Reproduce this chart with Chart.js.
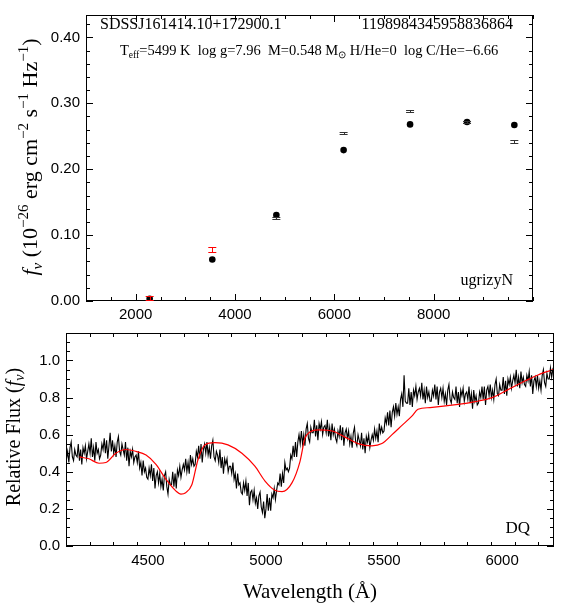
<!DOCTYPE html>
<html>
<head>
<meta charset="utf-8">
<script src="https://cdn.jsdelivr.net/npm/chart.js@4"></script>
<style>
html, body { margin: 0; padding: 0; background: #fff; }
#page { position: relative; width: 578px; height: 604px; overflow: hidden; }
#topChart { position: absolute; left: 0; top: 0; }
#botChart { position: absolute; left: 0; top: 318px; }
</style>
</head>
<body>
<div id="page">
  <canvas id="topChart" width="578" height="326"></canvas>
  <canvas id="botChart" width="578" height="286"></canvas>
</div>
<script>
// ---- top panel: photometry ----
const photWave  = [2282, 3543, 4833, 6187, 7525, 8672, 9624];
const modelFlux = [0.0035, 0.063, 0.1306, 0.229, 0.268, 0.2717, 0.267];   // filled dots
const obsFlux   = [0.004, 0.0776, 0.1257, 0.2553, 0.288, 0.2717, 0.2419]; // error bars
const obsErr    = [0.003, 0.004, 0.0015, 0.0015, 0.0015, 0.0015, 0.002];
const obsColor  = ['#ff0000', '#ff0000', '#333', '#333', '#333', '#333', '#333'];
const topXTicks = [2000, 4000, 6000, 8000];
const topYTicks = [0, 0.1, 0.2, 0.3, 0.4];

// ---- bottom panel: spectrum ----
const specStart = 4150;   // Angstrom, first sample
const specStep  = 5;      // Angstrom between samples
const specFlux = [
  0.54, 0.47, 0.51, 0.45, 0.53, 0.56, 0.48, 0.46, 0.52, 0.49,
  0.48, 0.55, 0.46, 0.52, 0.44, 0.53, 0.50, 0.54, 0.47, 0.51,
  0.55, 0.50, 0.58, 0.48, 0.53, 0.46, 0.56, 0.50, 0.52, 0.47,
  0.49, 0.55, 0.52, 0.58, 0.50, 0.57, 0.47, 0.54, 0.61, 0.51,
  0.57, 0.50, 0.54, 0.48, 0.56, 0.59, 0.51, 0.49, 0.55, 0.52,
  0.49, 0.56, 0.46, 0.53, 0.43, 0.51, 0.48, 0.52, 0.45, 0.48,
  0.49, 0.45, 0.51, 0.42, 0.45, 0.38, 0.46, 0.40, 0.42, 0.37,
  0.36, 0.42, 0.38, 0.44, 0.35, 0.42, 0.31, 0.38, 0.40, 0.34,
  0.39, 0.32, 0.36, 0.30, 0.38, 0.40, 0.32, 0.28, 0.36, 0.33,
  0.33, 0.40, 0.32, 0.39, 0.31, 0.41, 0.38, 0.43, 0.37, 0.41,
  0.44, 0.41, 0.47, 0.40, 0.45, 0.39, 0.49, 0.44, 0.47, 0.43,
  0.44, 0.51, 0.48, 0.54, 0.47, 0.55, 0.45, 0.52, 0.55, 0.50,
  0.56, 0.49, 0.53, 0.47, 0.54, 0.57, 0.48, 0.46, 0.51, 0.49,
  0.45, 0.52, 0.42, 0.48, 0.39, 0.47, 0.44, 0.47, 0.40, 0.43,
  0.43, 0.39, 0.45, 0.36, 0.39, 0.31, 0.39, 0.33, 0.34, 0.29,
  0.28, 0.34, 0.30, 0.35, 0.27, 0.34, 0.22, 0.29, 0.30, 0.25,
  0.30, 0.23, 0.26, 0.20, 0.27, 0.29, 0.21, 0.18, 0.24, 0.15,
  0.20, 0.28, 0.19, 0.26, 0.19, 0.28, 0.26, 0.31, 0.25, 0.30,
  0.34, 0.33, 0.39, 0.32, 0.39, 0.34, 0.45, 0.41, 0.42, 0.40,
  0.42, 0.49, 0.47, 0.54, 0.48, 0.56, 0.48, 0.56, 0.60, 0.55,
  0.62, 0.55, 0.60, 0.54, 0.63, 0.66, 0.58, 0.56, 0.64, 0.61,
  0.61, 0.68, 0.59, 0.65, 0.57, 0.66, 0.63, 0.67, 0.60, 0.64,
  0.65, 0.61, 0.68, 0.59, 0.64, 0.57, 0.66, 0.60, 0.63, 0.58,
  0.56, 0.62, 0.59, 0.65, 0.57, 0.64, 0.54, 0.61, 0.63, 0.58,
  0.62, 0.55, 0.59, 0.53, 0.61, 0.64, 0.56, 0.54, 0.60, 0.57,
  0.54, 0.61, 0.52, 0.58, 0.50, 0.59, 0.56, 0.60, 0.53, 0.57,
  0.60, 0.57, 0.63, 0.58, 0.62, 0.56, 0.66, 0.61, 0.64, 0.61,
  0.62, 0.69, 0.66, 0.72, 0.65, 0.73, 0.64, 0.72, 0.75, 0.70,
  0.77, 0.71, 0.75, 0.70, 0.79, 0.82, 0.75, 0.92, 0.78, 0.77,
  0.77, 0.85, 0.76, 0.83, 0.75, 0.84, 0.81, 0.86, 0.79, 0.83,
  0.85, 0.81, 0.88, 0.79, 0.84, 0.77, 0.86, 0.80, 0.83, 0.78,
  0.78, 0.84, 0.81, 0.87, 0.79, 0.86, 0.76, 0.83, 0.85, 0.80,
  0.85, 0.78, 0.82, 0.76, 0.84, 0.87, 0.79, 0.77, 0.83, 0.80,
  0.79, 0.86, 0.77, 0.83, 0.75, 0.84, 0.81, 0.85, 0.78, 0.82,
  0.83, 0.79, 0.86, 0.77, 0.82, 0.74, 0.84, 0.78, 0.81, 0.76,
  0.77, 0.83, 0.80, 0.86, 0.79, 0.86, 0.76, 0.84, 0.86, 0.81,
  0.87, 0.80, 0.84, 0.79, 0.87, 0.90, 0.82, 0.81, 0.87, 0.84,
  0.84, 0.91, 0.82, 0.89, 0.81, 0.90, 0.87, 0.91, 0.85, 0.89,
  0.92, 0.88, 0.95, 0.86, 0.91, 0.85, 0.94, 0.88, 0.91, 0.87,
  0.86, 0.92, 0.89, 0.94, 0.86, 0.92, 0.82, 0.89, 0.91, 0.86,
  0.92, 0.85, 0.89, 0.84, 0.92, 0.95, 0.88, 0.86, 0.93, 0.90,
  0.90, 0.96, 0.91, 0.95, 0.93
];
const fitWave = [4210, 4250, 4293, 4322, 4364, 4407, 4449, 4492, 4534, 4576, 4619, 4640, 4660,
  4686, 4712, 4741, 4784, 4839, 4898, 4953, 4996, 5038, 5068, 5110, 5144, 5165, 5186, 5220,
  5280, 5335, 5390, 5449, 5491, 5534, 5576, 5618, 5644, 5695, 5814, 5886, 5958, 6025, 6097,
  6152, 6220];
const fitFlux = [0.48, 0.47, 0.446, 0.45, 0.50, 0.52, 0.51, 0.49, 0.44, 0.36, 0.296, 0.28, 0.287,
  0.33, 0.465, 0.545, 0.557, 0.545, 0.50, 0.43, 0.35, 0.30, 0.293, 0.34, 0.455, 0.58, 0.614, 0.626,
  0.62, 0.587, 0.552, 0.54, 0.552, 0.60, 0.65, 0.70, 0.737, 0.746, 0.763, 0.778, 0.80, 0.843, 0.889,
  0.922, 0.952];
const botXTicks = [4500, 5000, 5500, 6000];
const botYTicks = [0, 0.2, 0.4, 0.6, 0.8, 1.0];

const tickFont = { family: 'Liberation Sans', size: 15 };
const serif = 'Liberation Serif';

function fixedTicks(vals) {
  return function (axis) { axis.ticks = vals.map(v => ({ value: v })); };
}

// box + inward ticks on all four sides
const framePlugin = {
  id: 'frame',
  afterDatasetsDraw(chart, args, opts) {
    const { ctx, chartArea: a, scales: { x, y } } = chart;
    ctx.save();
    ctx.strokeStyle = '#000';
    ctx.lineWidth = 1;
    ctx.strokeRect(a.left + 0.5, a.top + 0.5, a.right - a.left - 1, a.bottom - a.top - 1);
    ctx.beginPath();
    for (let v = x.min; v <= x.max + 1e-9; v += opts.xMinor) {
      const px = Math.round(x.getPixelForValue(v)) + 0.5;
      const len = opts.xMajor.some(m => Math.abs(m - v) < 1e-6) ? opts.major : opts.minor;
      ctx.moveTo(px, a.bottom); ctx.lineTo(px, a.bottom - len);
      ctx.moveTo(px, a.top); ctx.lineTo(px, a.top + len);
    }
    for (let v = y.min; v <= y.max + 1e-9; v += opts.yMinor) {
      const py = Math.round(y.getPixelForValue(v)) + 0.5;
      const len = opts.yMajor.some(m => Math.abs(m - v) < 1e-6) ? opts.major : opts.minor;
      ctx.moveTo(a.left, py); ctx.lineTo(a.left + len, py);
      ctx.moveTo(a.right, py); ctx.lineTo(a.right - len, py);
    }
    ctx.stroke();
    ctx.restore();
  }
};

function drawParts(ctx, x, y, parts) {
  parts.forEach(p => {
    ctx.font = p.f;
    ctx.fillText(p.t, x, y + (p.dy || 0));
    x += ctx.measureText(p.t).width;
  });
}
function partsWidth(ctx, parts) {
  let w = 0;
  parts.forEach(p => { ctx.font = p.f; w += ctx.measureText(p.t).width; });
  return w;
}

// error bars for observed photometry
const errPlugin = {
  id: 'errbars',
  afterDatasetsDraw(chart) {
    const { ctx, scales: { x, y } } = chart;
    ctx.save();
    ctx.lineWidth = 1;
    photWave.forEach((w, i) => {
      const px = x.getPixelForValue(w);
      const top = Math.round(y.getPixelForValue(obsFlux[i] + obsErr[i])) + 0.5;
      const bot = Math.round(y.getPixelForValue(obsFlux[i] - obsErr[i])) + 0.5;
      ctx.strokeStyle = obsColor[i];
      ctx.beginPath();
      ctx.moveTo(px - 4, top); ctx.lineTo(px + 4, top);
      ctx.moveTo(px - 4, bot); ctx.lineTo(px + 4, bot);
      ctx.moveTo(Math.round(px) + 0.5, top); ctx.lineTo(Math.round(px) + 0.5, bot);
      ctx.stroke();
    });
    ctx.restore();
  }
};

const topText = {
  id: 'topText',
  afterDraw(chart) {
    const ctx = chart.ctx;
    ctx.save();
    ctx.fillStyle = '#000';
    ctx.textBaseline = 'alphabetic';
    ctx.font = '16px ' + serif;
    ctx.textAlign = 'left';
    ctx.fillText('SDSSJ161414.10+172900.1', 100, 29);
    ctx.textAlign = 'right';
    ctx.fillText('1198984345958836864', 513, 29);
    ctx.fillText('ugrizyN', 513, 285);
    ctx.textAlign = 'left';
    const f = '14.5px ' + serif, s = '9.5px ' + serif;
    drawParts(ctx, 120, 55, [
      { t: 'T', f: f }, { t: 'eff', f: s, dy: 3 },
      { t: '=5499 K  log g=7.96  M=0.548 M', f: f }, { t: '\u2299', f: s, dy: 3 },
      { t: ' H/He=0  log C/He=\u22126.66', f: f }
    ]);
    // y title
    const F = '22px ' + serif, FI = 'italic 22px ' + serif, S = '15px ' + serif;
    const parts = [
      { t: 'f', f: FI }, { t: '\u03bd', f: 'italic 15px ' + serif, dy: 5 },
      { t: ' (10', f: F }, { t: '\u221226', f: S, dy: -9 },
      { t: ' erg cm', f: F }, { t: '\u22122', f: S, dy: -9 },
      { t: ' s', f: F }, { t: '\u22121', f: S, dy: -9 },
      { t: ' Hz', f: F }, { t: '\u22121', f: S, dy: -9 },
      { t: ')', f: F }
    ];
    ctx.translate(37, 157);
    ctx.rotate(-Math.PI / 2);
    drawParts(ctx, -partsWidth(ctx, parts) / 2, 0, parts);
    ctx.restore();
  }
};

const botText = {
  id: 'botText',
  afterDraw(chart) {
    const ctx = chart.ctx;
    ctx.save();
    ctx.fillStyle = '#000';
    ctx.textBaseline = 'alphabetic';
    ctx.font = '17px ' + serif;
    ctx.textAlign = 'right';
    ctx.fillText('DQ', 530, 215);
    ctx.textAlign = 'center';
    ctx.font = '21px ' + serif;
    ctx.fillText('Wavelength (\u00c5)', 310, 280);
    ctx.textAlign = 'left';
    const parts = [
      { t: 'Relative Flux (', f: '20px ' + serif },
      { t: 'f', f: 'italic 20px ' + serif }, { t: '\u03bd', f: 'italic 14px ' + serif, dy: 4 },
      { t: ')', f: '20px ' + serif }
    ];
    ctx.translate(20, 437 - 318);
    ctx.rotate(-Math.PI / 2);
    drawParts(ctx, -partsWidth(ctx, parts) / 2, 0, parts);
    ctx.restore();
  }
};

new Chart(document.getElementById('topChart'), {
  type: 'scatter',
  data: {
    datasets: [{
      data: photWave.map((w, i) => ({ x: w, y: modelFlux[i] })),
      pointRadius: 3.3,
      pointBackgroundColor: '#000',
      pointBorderWidth: 0
    }]
  },
  options: {
    responsive: false,
    animation: false,
    layout: { padding: { left: 0, right: 45, top: 1, bottom: 0 } },
    plugins: {
      legend: { display: false },
      tooltip: { enabled: false },
      frame: { xMinor: 500, yMinor: 0.02, xMajor: topXTicks, yMajor: topYTicks, major: 7, minor: 4 }
    },
    scales: {
      x: {
        type: 'linear', min: 1000, max: 10000,
        afterBuildTicks: fixedTicks(topXTicks),
        afterFit: a => { a.height = 25; },
        grid: { display: false, drawTicks: false }, border: { display: false },
        ticks: { color: '#000', font: tickFont, padding: 5, maxRotation: 0, callback: v => String(v) }
      },
      y: {
        type: 'linear', min: 0, max: 0.434,
        afterBuildTicks: fixedTicks(topYTicks),
        afterFit: a => { a.width = 86; },
        grid: { display: false, drawTicks: false }, border: { display: false },
        ticks: { color: '#000', font: tickFont, padding: 6, callback: v => v.toFixed(2) }
      }
    }
  },
  plugins: [framePlugin, errPlugin, topText]
});

new Chart(document.getElementById('botChart'), {
  type: 'line',
  data: {
    datasets: [
      {
        data: fitWave.map((w, i) => ({ x: w, y: fitFlux[i] })),
        borderColor: '#ff0000', borderWidth: 1.2, pointRadius: 0,
        cubicInterpolationMode: 'monotone', fill: false
      },
      {
        data: specFlux.map((f, i) => ({ x: specStart + i * specStep, y: f })),
        borderColor: '#000', borderWidth: 1.1, pointRadius: 0, tension: 0, fill: false
      }
    ]
  },
  options: {
    responsive: false,
    animation: false,
    layout: { padding: { left: 0, right: 24, top: 11, bottom: 0 } },
    plugins: {
      legend: { display: false },
      tooltip: { enabled: false },
      frame: { xMinor: 100, yMinor: 0.05, xMajor: botXTicks, yMajor: botYTicks, major: 7, minor: 4 }
    },
    scales: {
      x: {
        type: 'linear', min: 4153, max: 6220,
        afterBuildTicks: fixedTicks(botXTicks),
        afterFit: a => { a.height = 58; },
        grid: { display: false, drawTicks: false }, border: { display: false },
        ticks: { color: '#000', font: tickFont, padding: 6, maxRotation: 0, callback: v => String(v) }
      },
      y: {
        type: 'linear', min: 0, max: 1.148,
        afterBuildTicks: fixedTicks(botYTicks),
        afterFit: a => { a.width = 66; },
        grid: { display: false, drawTicks: false }, border: { display: false },
        ticks: { color: '#000', font: tickFont, padding: 6, callback: v => v.toFixed(1) }
      }
    }
  },
  plugins: [framePlugin, botText]
});
</script>
</body>
</html>
